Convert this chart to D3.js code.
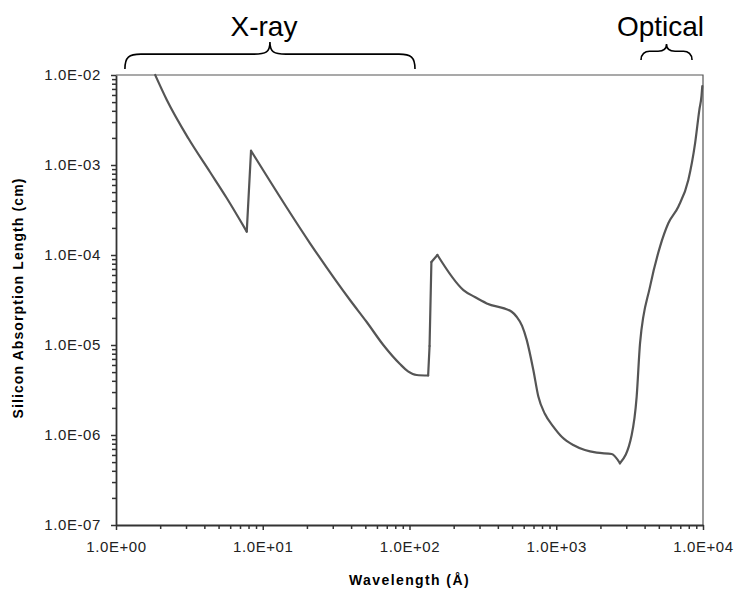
<!DOCTYPE html>
<html>
<head>
<meta charset="utf-8">
<script src="https://cdn.jsdelivr.net/npm/d3@7"></script>
<style>
  body { margin: 0; background: #fff; }
  svg { display: block; font-family: "Liberation Sans", Arial, sans-serif; }
</style>
</head>
<body>
<svg width="737" height="592"></svg>
<script>
// wavelength in Angstrom, absorption length in cm
var wavelength = [1.85, 2.22, 3.11, 4.37, 5.68, 7.78, 8.32, 21.0, 39.3, 51.1, 66.3, 86.1, 97.7, 112,
  134, 137, 141, 155, 233, 279, 336, 497, 537, 585, 629, 698, 755, 838, 955, 1094, 1306, 1567,
  1888, 2388, 2717, 3266, 3532, 3724, 4356, 5096, 5803, 6790, 7943, 8831, 9440, 9768, 9890];
var absorption = [1.0e-2, 5.28e-3, 1.98e-3, 8.36e-4, 4.30e-4, 1.82e-4, 1.44e-3, 1.35e-4, 3.16e-5, 1.80e-5, 1.0e-5, 6.15e-6, 5.1e-6, 4.64e-6,
  4.58e-6, 9.75e-6, 8.36e-5, 1.0e-4, 4.08e-5, 3.41e-5, 2.9e-5, 2.34e-5, 2.06e-5, 1.63e-5, 1.14e-5, 5.27e-6, 2.67e-6, 1.71e-6, 1.24e-6, 9.5e-7, 7.74e-7, 6.81e-7,
  6.36e-7, 6.15e-7, 4.85e-7, 1.0e-6, 2.67e-6, 1.05e-5, 4.45e-5, 1.24e-4, 2.25e-4, 3.44e-4, 6.81e-4, 1.74e-3, 4.08e-3, 5.85e-3, 7.55e-3];

// wavelengths where the curve has a sharp corner (absorption edges, dip)
var corners = [7.78, 8.32, 134, 137, 141, 155, 2717];

var xTicks = [1, 10, 100, 1000, 10000];
var yTicks = [1e-7, 1e-6, 1e-5, 1e-4, 1e-3, 1e-2];

// spectral bands marked with braces above the plot
var bandNames = ["X-ray", "Optical"];
var bandStart = [1.15, 3780];
var bandEnd = [109, 8420];

var svg = d3.select("svg"),
	width = +svg.attr("width"),
	height = +svg.attr("height");

var margin = { top: 75, right: 34, bottom: 67, left: 116 };
var w = width - margin.left - margin.right,
	h = height - margin.top - margin.bottom;

var x = d3.scaleLog().domain([1, 10000]).range([0, w]);
var y = d3.scaleLog().domain([1e-7, 1e-2]).range([h, 0]);

function sci(d) {
	var e = Math.round(Math.log10(d));
	return "1.0E" + (e < 0 ? "-" : "+") + String(Math.abs(e)).padStart(2, "0");
}

var g = svg.append("g")
	.attr("transform", "translate(" + margin.left + "," + margin.top + ")");

//top and right frame
g.append("path")
	.attr("d", "M0,0H" + w + "V" + h)
	.attr("fill", "none")
	.attr("stroke", "#555")
	.attr("stroke-width", 1.2);

//minor ticks come from the log scale's own tick list
var xMinor = x.ticks().filter(function (d) { return xTicks.indexOf(d) < 0; });
var yMinor = y.ticks().filter(function (d) { return yTicks.indexOf(d) < 0; });

g.append("g")
	.attr("transform", "translate(0," + h + ")")
	.call(d3.axisBottom(x).tickValues(xMinor).tickSize(4).tickFormat(""))
	.call(function (a) { a.select(".domain").remove(); });

g.append("g")
	.call(d3.axisLeft(y).tickValues(yMinor).tickSize(4).tickFormat(""))
	.call(function (a) { a.select(".domain").remove(); });

g.append("g")
	.attr("transform", "translate(0," + h + ")")
	.call(d3.axisBottom(x).tickValues(xTicks).tickSize(5).tickSizeOuter(0).tickPadding(11).tickFormat(sci));

g.append("g")
	.call(d3.axisLeft(y).tickValues(yTicks).tickSize(5).tickSizeOuter(0).tickPadding(10).tickFormat(sci));

svg.selectAll(".tick line").attr("stroke", "#333").attr("stroke-width", 1.5);
svg.selectAll(".domain").attr("stroke", "#333").attr("stroke-width", 1.8);
svg.selectAll(".tick text")
	.attr("font-family", "'Liberation Sans', Arial, sans-serif")
	.attr("font-size", 15)
	.attr("letter-spacing", 0.6)
	.attr("fill", "#222");

//the absorption curve, split at the sharp corners so each smooth piece
//gets its own monotone curve and the edges stay sharp
var pts = wavelength.map(function (d, i) { return [d, absorption[i]]; });
var pieces = [], cur = [];
pts.forEach(function (p) {
	cur.push(p);
	if (corners.indexOf(p[0]) >= 0) {
		pieces.push(cur);
		cur = [p];
	}
});
if (cur.length > 1) pieces.push(cur);

var line = d3.line()
	.curve(d3.curveMonotoneX)
	.x(function (d) { return x(d[0]); })
	.y(function (d) { return y(d[1]); });

g.append("g")
	.selectAll("path")
	.data(pieces)
	.enter().append("path")
	.attr("d", line)
	.attr("fill", "none")
	.attr("stroke", "#555")
	.attr("stroke-width", 2.2)
	.attr("stroke-linejoin", "round")
	.attr("stroke-linecap", "round");

//axis titles
svg.append("text")
	.attr("x", margin.left + w / 2)
	.attr("y", 585)
	.attr("text-anchor", "middle")
	.attr("font-size", 14)
	.attr("font-weight", "bold")
	.attr("letter-spacing", 1.4)
	.text("Wavelength (Å)");

svg.append("text")
	.attr("transform", "translate(23,298) rotate(-90)")
	.attr("text-anchor", "middle")
	.attr("font-size", 14)
	.attr("font-weight", "bold")
	.attr("letter-spacing", 1.1)
	.text("Silicon Absorption Length (cm)");

//curly braces over the bands
function brace(x0, x1, yb, depth) {
	var xm = (x0 + x1) / 2, r = Math.min(16, (x1 - x0) / 6);
	var yl = yb - depth * 0.55;
	return "M" + x0 + "," + yb +
		"C" + x0 + "," + (yl + 3) + " " + (x0 + 4) + "," + yl + " " + (x0 + r) + "," + yl +
		"L" + (xm - r) + "," + yl +
		"C" + (xm - 4) + "," + yl + " " + xm + "," + (yl - 2) + " " + xm + "," + (yb - depth) +
		"C" + xm + "," + (yl - 2) + " " + (xm + 4) + "," + yl + " " + (xm + r) + "," + yl +
		"L" + (x1 - r) + "," + yl +
		"C" + (x1 - 4) + "," + yl + " " + x1 + "," + (yl + 3) + " " + x1 + "," + yb;
}

var bands = bandNames.map(function (d, i) {
	return { name: d, x0: margin.left + x(bandStart[i]), x1: margin.left + x(bandEnd[i]) };
});

svg.selectAll(".brace")
	.data(bands)
	.enter().append("path")
	.attr("class", "brace")
	.attr("d", function (d) { return brace(d.x0, d.x1, d.name == "X-ray" ? 69 : 60, d.name == "X-ray" ? 27 : 16); })
	.attr("fill", "none")
	.attr("stroke", "#000")
	.attr("stroke-width", 1.6);

svg.selectAll(".band-label")
	.data(bands)
	.enter().append("text")
	.attr("class", "band-label")
	.attr("x", function (d) { return (d.x0 + d.x1) / 2 - 6; })
	.attr("y", 36)
	.attr("text-anchor", "middle")
	.attr("font-size", 28)
	.attr("fill", "#000")
	.text(function (d) { return d.name; });
</script>
</body>
</html>
